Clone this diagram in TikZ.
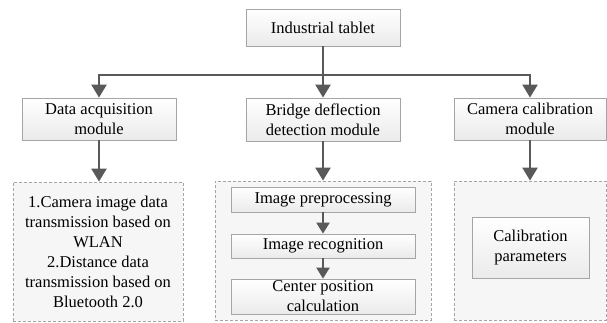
\documentclass[tikz,border=0pt]{standalone}
\usepackage{fontspec}
\setmainfont{Liberation Serif}
\usetikzlibrary{arrows.meta,shadows}
\definecolor{lc}{RGB}{89,89,89}
\definecolor{bd}{RGB}{165,165,165}
\definecolor{dfill}{RGB}{246,246,246}
\begin{document}
\begin{tikzpicture}[x=1pt,y=-1pt,
  txt/.style={font=\fontsize{16.5}{20}\selectfont, align=center, inner sep=0pt},
  box/.style={txt, draw=bd, line width=0.8pt, top color=white, bottom color=gray!16,
    drop shadow={shadow xshift=1.3pt, shadow yshift=-1.3pt, opacity=0.35, fill=gray}},
  dbox/.style={txt, draw=bd, dash pattern=on 3pt off 2pt, line width=0.8pt, fill=dfill},
  ln/.style={draw=lc, line width=2.2pt},
  arr/.style={ln, -{Triangle[width=15pt,length=13pt]}},
  sarr/.style={ln, -{Triangle[width=13pt,length=11pt]}}]
\useasboundingbox (0,0) rectangle (607,322);
% top level
\node[box, minimum width=154pt, minimum height=37pt] (top) at (323,27.5) {Industrial tablet};
% second row
\node[box, minimum width=154pt, minimum height=42pt] (dacq) at (99,119) {Data acquisition\\module};
\node[box, minimum width=154pt, minimum height=43pt] (bdd) at (323,119.5) {Bridge deflection\\detection module};
\node[box, minimum width=152pt, minimum height=42pt] (ccal) at (530,119) {Camera calibration\\module};
% dashed containers
\node[dbox, minimum width=170pt, minimum height=139pt] (d1) at (98,251.5) {1.Camera image data\\transmission based on\\WLAN\\2.Distance data\\transmission based on\\Bluetooth 2.0};
\node[dbox, minimum width=216pt, minimum height=139pt] (d2) at (323,250.5) {};
\node[dbox, minimum width=152pt, minimum height=139pt] (d3) at (530,250.5) {};
% inner boxes
\node[box, minimum width=184pt, minimum height=25pt] (pre) at (323,199.5) {Image preprocessing};
\node[box, minimum width=184pt, minimum height=24pt] (rec) at (323,246) {Image recognition};
\node[box, minimum width=184pt, minimum height=35pt] (cen) at (323,296.5) {Center position\\calculation};
\node[box, minimum width=117pt, minimum height=61pt] (calp) at (530.5,247.5) {Calibration\\parameters};
% connectors
\coordinate (hj) at (323,75);
\draw[ln] (top.south) -- (hj);
\draw[arr] (hj) -| (dacq.north);
\draw[arr] (hj) -| (ccal.north);
\draw[arr] (hj) -- (bdd.north);
\draw[arr] (dacq.south) -- (dacq.south |- d1.north);
\draw[arr] (bdd.south) -- (d2.north);
\draw[arr] (ccal.south) -- (d3.north);
\draw[sarr] (pre.south) -- (rec.north);
\draw[sarr] (rec.south) -- (cen.north);
\end{tikzpicture}
\end{document}
